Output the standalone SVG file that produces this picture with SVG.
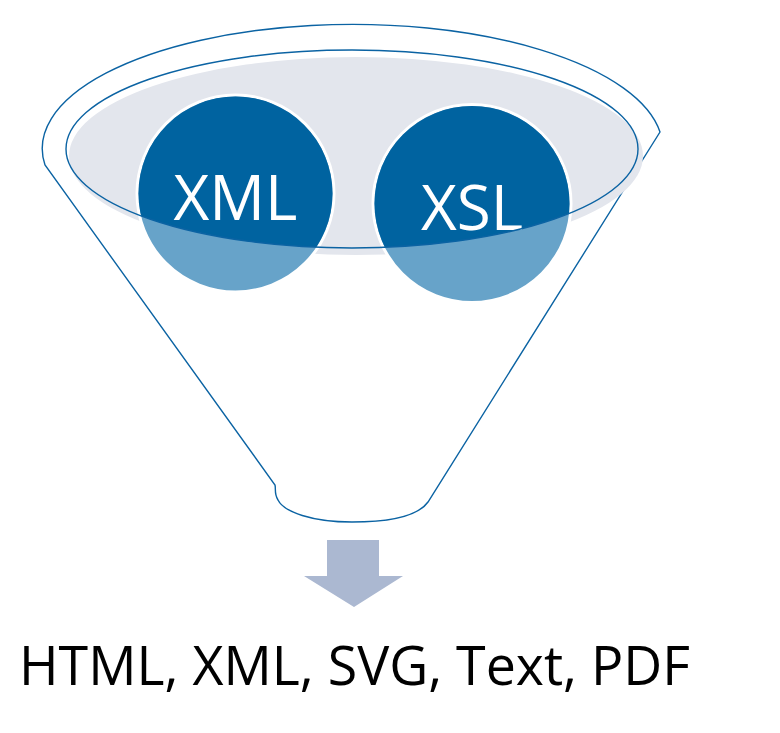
<svg xmlns="http://www.w3.org/2000/svg" width="780" height="733" viewBox="0 0 780 733">
<style>
.line{fill:none;stroke:#0B63A3;stroke-width:1.4}
.lbl{font-family:"Open Sans","Noto Sans","Liberation Sans",sans-serif;fill:#fff;text-anchor:middle}
.light{fill:#67A3C9;stroke:#fff;stroke-width:3}
.dark{fill:#0063A0}
</style>
<defs>
<clipPath id="bowl"><ellipse cx="352" cy="149" rx="286" ry="99"/></clipPath>
</defs>
<rect width="780" height="733" fill="#fff"/>
<g id="funnel">
<path class="line" fill="#fff" d="M45,165 A310,124 0 1 1 660,132 L428,502 C418,516 390,522 352,522 C312,522 284,512 278,500 C274,494 276,489 275,485 Z"/>
<ellipse cx="356" cy="156" rx="287" ry="99" fill="#E3E6ED"/>
</g>
<g id="xml">
<circle class="light" cx="235.5" cy="193.5" r="98.5"/>
<circle class="dark" cx="235.5" cy="193.5" r="97" clip-path="url(#bowl)"/>
<text class="lbl" x="235.5" y="220" font-size="62">XML</text>
</g>
<g id="xsl">
<circle class="light" cx="472" cy="203.5" r="99"/>
<circle class="dark" cx="472" cy="203.5" r="97.5" clip-path="url(#bowl)"/>
<text class="lbl" x="472" y="230" font-size="62">XSL</text>
</g>
<g id="rim">
<ellipse class="line" cx="352" cy="149" rx="286" ry="99"/>
</g>
<g id="connectors">
<path d="M327,540 H379 V576 H403 L354,607 L304,576 H327 Z" fill="#ABB8D1"/>
</g>
<g id="output">
<text x="19" y="685" font-family="Open Sans,Noto Sans,Liberation Sans,sans-serif" font-size="55" fill="#000" textLength="671" lengthAdjust="spacingAndGlyphs">HTML, XML, SVG, Text, PDF</text>
</g>
</svg>
